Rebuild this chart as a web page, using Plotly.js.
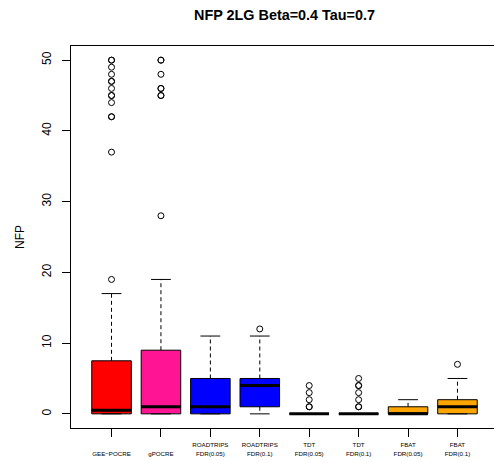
<!DOCTYPE html>
<html><head><meta charset="utf-8">
<script src="https://cdn.plot.ly/plotly-3.0.1.min.js"></script>
<style>html,body{margin:0;padding:0;overflow:hidden;background:#fff}</style>
</head><body><div id="chart" style="width:498px;height:463px"></div>
<script>
// ---- data ----
const categories = ["GEE−POCRE", "gPOCRE", "ROADTRIPS FDR(0.05)", "ROADTRIPS FDR(0.1)", "TDT FDR(0.05)", "TDT FDR(0.1)", "FBAT FDR(0.05)", "FBAT FDR(0.1)"];
const tickLabels = ["<br>GEE−POCRE", "<br>gPOCRE", "ROADTRIPS<br>FDR(0.05)", "ROADTRIPS<br>FDR(0.1)", "TDT<br>FDR(0.05)", "TDT<br>FDR(0.1)", "FBAT<br>FDR(0.05)", "FBAT<br>FDR(0.1)"];
const q1Values = [0, 0, 0, 1, 0, 0, 0, 0];
const medianValues = [0.5, 1, 1, 4, 0, 0, 0, 1];
const q3Values = [7.5, 9, 5, 5, 0, 0, 1, 2];
const lowerWhisker = [0, 0, 0, 0, 0, 0, 0, 0];
const upperWhisker = [17, 19, 11, 11, 0, 0, 2, 5];
const outlierValues = [
  [50, 50, 49, 48, 47, 47, 46, 45, 45, 44, 42, 42, 37, 19],
  [50, 50, 48, 46, 46, 45, 45, 28],
  [],
  [12],
  [4, 3, 2, 1, 1],
  [5, 4, 4, 3, 2, 1, 1],
  [],
  [7]
];
const boxColors = ["#FF0000", "#FF1493", "#0000FF", "#0000FF", "#000000", "#000000", "#FFA500", "#FFA500"];
const yTicks = [0, 10, 20, 30, 40, 50];

// ---- build traces ----
const FONT = "Liberation Sans, Arial, Helvetica, sans-serif";
const traces = [];
const BW = 0.8, CAP = 0.2;
categories.forEach((c, i) => {
  const p = i + 1;
  traces.push({
    type: "box", x: [p], q1: [q1Values[i]], median: [medianValues[i]], q3: [q3Values[i]],
    lowerfence: [q1Values[i]], upperfence: [q3Values[i]],
    width: BW, whiskerwidth: 0, boxpoints: false,
    fillcolor: boxColors[i], line: {color: "#000", width: 1},
    name: c, showlegend: false, hoverinfo: "skip"
  });
});
// whiskers (dashed)
const wx = [], wy = [];
categories.forEach((c, i) => {
  const p = i + 1;
  wx.push(p, p, null, p, p, null);
  wy.push(q3Values[i], upperWhisker[i], null, q1Values[i], lowerWhisker[i], null);
});
traces.push({type: "scatter", mode: "lines", x: wx, y: wy, line: {color: "#000", width: 1, dash: "4px,3px"}, showlegend: false, hoverinfo: "skip"});
// staples
const sx = [], sy = [];
categories.forEach((c, i) => {
  const p = i + 1;
  sx.push(p - CAP, p + CAP, null, p - CAP, p + CAP, null);
  sy.push(upperWhisker[i], upperWhisker[i], null, lowerWhisker[i], lowerWhisker[i], null);
});
traces.push({type: "scatter", mode: "lines", x: sx, y: sy, line: {color: "#000", width: 1}, showlegend: false, hoverinfo: "skip"});
// medians (thick)
const mx = [], my = [];
categories.forEach((c, i) => {
  const p = i + 1;
  mx.push(p - BW / 2, p + BW / 2, null);
  my.push(medianValues[i], medianValues[i], null);
});
traces.push({type: "scatter", mode: "lines", x: mx, y: my, line: {color: "#000", width: 3}, showlegend: false, hoverinfo: "skip"});
// outliers
const ox = [], oy = [];
outlierValues.forEach((arr, i) => arr.forEach(v => { ox.push(i + 1); oy.push(v); }));
traces.push({type: "scatter", mode: "markers", x: ox, y: oy,
  marker: {symbol: "circle-open", size: 6, color: "#000", line: {width: 1, color: "#000"}},
  showlegend: false, hoverinfo: "skip"});

const layout = {
  width: 498, height: 463,
  margin: {l: 71, r: 0, t: 46, b: 35, pad: 0},
  paper_bgcolor: "#fff", plot_bgcolor: "#fff",
  font: {family: FONT, color: "#000"},
  showlegend: false,
  title: {text: "NFP 2LG Beta=0.4 Tau=0.7", font: {family: FONT, size: 14.4, weight: "bold", color: "#000"},
    x: 0.5, xref: "paper", xanchor: "center", y: 1 - 15 / 463, yref: "container", yanchor: "middle"},
  xaxis: {
    range: [0.18, 8.82], tickmode: "array", tickvals: categories.map((c, i) => i + 1), ticktext: tickLabels,
    ticks: "outside", ticklen: 8, tickcolor: "#000", tickwidth: 1, ticklabelstandoff: 3,
    showline: true, mirror: true, linecolor: "#000", linewidth: 1,
    showgrid: false, zeroline: false, tickfont: {size: 6.2, family: FONT, color: "#000"}
  },
  yaxis: {
    range: [-2, 52], tickmode: "array", tickvals: yTicks, ticktext: yTicks.map(String),
    ticks: "outside", ticklen: 8, tickcolor: "#000", tickwidth: 1, tickangle: -90, ticklabelstandoff: 6,
    showline: true, mirror: true, linecolor: "#000", linewidth: 1,
    showgrid: false, zeroline: false, tickfont: {size: 12, family: FONT, color: "#000"}
  },
  annotations: [{
    text: "NFP", xref: "paper", yref: "paper", x: (20 - 71) / 427, y: 0.5, xanchor: "center", yanchor: "middle",
    textangle: -90, showarrow: false, font: {size: 12, family: FONT, color: "#000"}
  }]
};
Plotly.newPlot("chart", traces, layout, {displayModeBar: false, staticPlot: true});
</script></body></html>
